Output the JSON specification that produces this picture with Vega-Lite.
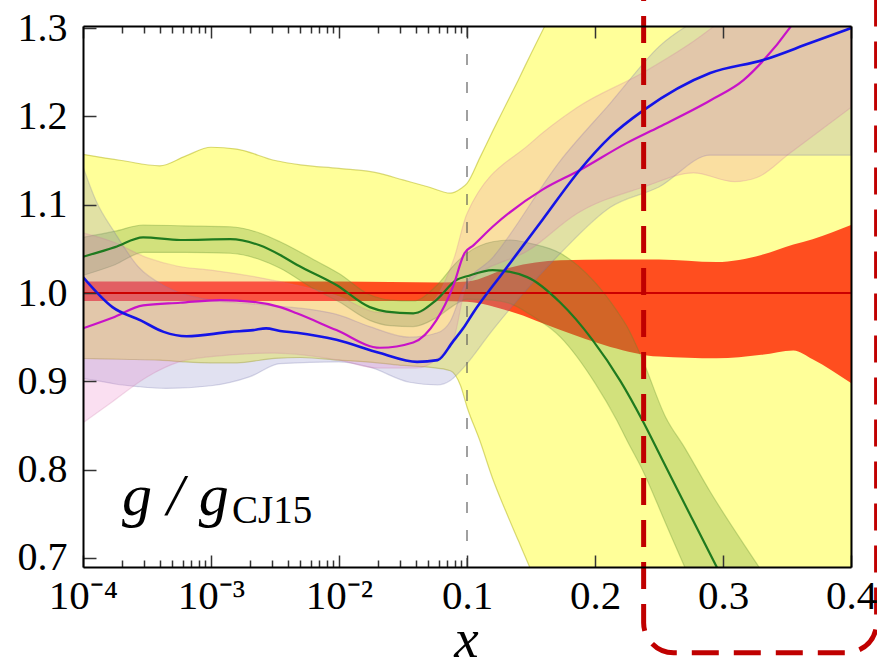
{
  "$schema": "https://vega.github.io/schema/vega-lite/v6.json",
  "width": 768,
  "height": 541,
  "autosize": {"type": "none"},
  "padding": {"left": 83, "top": 26, "right": 26, "bottom": 98},
  "background": "white",
  "config": {"view": {"stroke": null}},
  "datasets": {
    "yellow": [
      {"u": 0, "lo": 0.926, "hi": 1.157}, {"u": 0.3, "lo": 0.925, "hi": 1.150}, {"u": 0.6, "lo": 0.924, "hi": 1.144},
      {"u": 0.8, "lo": 0.922, "hi": 1.155}, {"u": 1.0, "lo": 0.921, "hi": 1.165}, {"u": 1.2, "lo": 0.921, "hi": 1.163},
      {"u": 1.5, "lo": 0.926, "hi": 1.150}, {"u": 1.7, "lo": 0.927, "hi": 1.145}, {"u": 2.0, "lo": 0.924, "hi": 1.141},
      {"u": 2.3, "lo": 0.921, "hi": 1.136}, {"u": 2.5, "lo": 0.918, "hi": 1.128}, {"u": 2.7, "lo": 0.916, "hi": 1.120},
      {"u": 2.87, "lo": 0.912, "hi": 1.113}, {"u": 2.95, "lo": 0.895, "hi": 1.118}, {"u": 3.0, "lo": 0.871, "hi": 1.124},
      {"u": 3.1, "lo": 0.833, "hi": 1.153}, {"u": 3.2, "lo": 0.790, "hi": 1.183}, {"u": 3.3, "lo": 0.754, "hi": 1.212},
      {"u": 3.4, "lo": 0.720, "hi": 1.241}, {"u": 3.5, "lo": 0.686, "hi": 1.271}, {"u": 3.6, "lo": 0.650, "hi": 1.300},
      {"u": 3.8, "lo": 0.57, "hi": 1.36}, {"u": 4.0, "lo": 0.48, "hi": 1.42}, {"u": 6.0, "lo": -0.5, "hi": 2.0}
    ],
    "red": [
      {"u": 0, "lo": 0.991, "hi": 1.013}, {"u": 1.0, "lo": 0.991, "hi": 1.013}, {"u": 2.0, "lo": 0.991, "hi": 1.013},
      {"u": 2.8, "lo": 0.991, "hi": 1.012}, {"u": 3.0, "lo": 0.990, "hi": 1.013}, {"u": 3.34, "lo": 0.979, "hi": 1.029},
      {"u": 3.73, "lo": 0.958, "hi": 1.037}, {"u": 4.12, "lo": 0.939, "hi": 1.038}, {"u": 4.5, "lo": 0.928, "hi": 1.038},
      {"u": 4.95, "lo": 0.926, "hi": 1.035}, {"u": 5.3, "lo": 0.930, "hi": 1.043}, {"u": 5.55, "lo": 0.935, "hi": 1.055},
      {"u": 5.7, "lo": 0.925, "hi": 1.061}, {"u": 6.0, "lo": 0.898, "hi": 1.077}
    ],
    "greenband": [
      {"u": 0, "lo": 1.020, "hi": 1.063}, {"u": 0.25, "lo": 1.032, "hi": 1.070}, {"u": 0.47, "lo": 1.046, "hi": 1.077},
      {"u": 0.8, "lo": 1.046, "hi": 1.076}, {"u": 1.15, "lo": 1.045, "hi": 1.075}, {"u": 1.38, "lo": 1.038, "hi": 1.068},
      {"u": 1.54, "lo": 1.028, "hi": 1.058}, {"u": 1.8, "lo": 1.005, "hi": 1.038}, {"u": 2.0, "lo": 0.990, "hi": 1.022},
      {"u": 2.24, "lo": 0.969, "hi": 0.998}, {"u": 2.4, "lo": 0.963, "hi": 0.992}, {"u": 2.58, "lo": 0.962, "hi": 0.991},
      {"u": 2.76, "lo": 0.972, "hi": 1.008}, {"u": 2.92, "lo": 0.988, "hi": 1.035}, {"u": 3.0, "lo": 0.993, "hi": 1.045},
      {"u": 3.2, "lo": 0.992, "hi": 1.058}, {"u": 3.34, "lo": 0.988, "hi": 1.060}, {"u": 3.5, "lo": 0.975, "hi": 1.056},
      {"u": 3.73, "lo": 0.950, "hi": 1.045}, {"u": 4.0, "lo": 0.898, "hi": 1.012}, {"u": 4.17, "lo": 0.856, "hi": 0.980},
      {"u": 4.25, "lo": 0.833, "hi": 0.962}, {"u": 4.37, "lo": 0.800, "hi": 0.925}, {"u": 4.55, "lo": 0.740, "hi": 0.860},
      {"u": 4.7, "lo": 0.690, "hi": 0.825}, {"u": 4.9, "lo": 0.625, "hi": 0.775}, {"u": 5.28, "lo": 0.50, "hi": 0.690},
      {"u": 5.6, "lo": 0.40, "hi": 0.62}, {"u": 6.0, "lo": 0.27, "hi": 0.53}
    ],
    "magband": [
      {"u": 0, "lo": 0.853, "hi": 1.068}, {"u": 0.23, "lo": 0.877, "hi": 1.058}, {"u": 0.5, "lo": 0.905, "hi": 1.040},
      {"u": 0.75, "lo": 0.922, "hi": 1.030}, {"u": 1.0, "lo": 0.928, "hi": 1.026}, {"u": 1.5, "lo": 0.932, "hi": 1.014},
      {"u": 2.0, "lo": 0.924, "hi": 0.996}, {"u": 2.3, "lo": 0.915, "hi": 0.978}, {"u": 2.6, "lo": 0.915, "hi": 0.977},
      {"u": 2.8, "lo": 0.930, "hi": 1.005}, {"u": 2.9, "lo": 0.950, "hi": 1.040}, {"u": 3.0, "lo": 1.010, "hi": 1.090},
      {"u": 3.5, "lo": 1.050, "hi": 1.170}, {"u": 3.86, "lo": 1.090, "hi": 1.210}, {"u": 4.38, "lo": 1.120, "hi": 1.250},
      {"u": 4.77, "lo": 1.136, "hi": 1.285}, {"u": 5.09, "lo": 1.126, "hi": 1.320}, {"u": 5.27, "lo": 1.131, "hi": 1.340},
      {"u": 5.52, "lo": 1.158, "hi": 1.370}, {"u": 6.0, "lo": 1.210, "hi": 1.450}
    ],
    "blueband": [
      {"u": 0, "lo": 0.903, "hi": 1.143}, {"u": 0.1, "lo": 0.901, "hi": 1.105}, {"u": 0.25, "lo": 0.897, "hi": 1.068},
      {"u": 0.43, "lo": 0.894, "hi": 1.030}, {"u": 0.65, "lo": 0.892, "hi": 1.007}, {"u": 1.0, "lo": 0.895, "hi": 0.992},
      {"u": 1.3, "lo": 0.905, "hi": 0.988}, {"u": 1.54, "lo": 0.920, "hi": 0.985}, {"u": 2.0, "lo": 0.922, "hi": 0.975},
      {"u": 2.24, "lo": 0.916, "hi": 0.962}, {"u": 2.55, "lo": 0.899, "hi": 0.950}, {"u": 2.77, "lo": 0.896, "hi": 0.955},
      {"u": 2.87, "lo": 0.901, "hi": 0.968}, {"u": 2.97, "lo": 0.915, "hi": 1.005}, {"u": 3.2, "lo": 0.958, "hi": 1.040},
      {"u": 3.73, "lo": 1.045, "hi": 1.150}, {"u": 4.12, "lo": 1.097, "hi": 1.215}, {"u": 4.5, "lo": 1.120, "hi": 1.279},
      {"u": 4.9, "lo": 1.156, "hi": 1.320}, {"u": 5.42, "lo": 1.156, "hi": 1.380}, {"u": 6.0, "lo": 1.156, "hi": 1.450}
    ],
    "green": [
      {"u": 0, "v": 1.041}, {"u": 0.25, "v": 1.052}, {"u": 0.47, "v": 1.063}, {"u": 0.76, "v": 1.060}, {"u": 1.15, "v": 1.061},
      {"u": 1.38, "v": 1.054}, {"u": 1.54, "v": 1.043}, {"u": 1.67, "v": 1.032}, {"u": 1.98, "v": 1.009}, {"u": 2.24, "v": 0.984},
      {"u": 2.37, "v": 0.979}, {"u": 2.58, "v": 0.977}, {"u": 2.76, "v": 0.992}, {"u": 2.92, "v": 1.015}, {"u": 3.0, "v": 1.019},
      {"u": 3.2, "v": 1.026}, {"u": 3.47, "v": 1.018}, {"u": 3.73, "v": 0.989}, {"u": 3.98, "v": 0.947}, {"u": 4.2, "v": 0.900},
      {"u": 4.37, "v": 0.856}, {"u": 4.52, "v": 0.813}, {"u": 4.75, "v": 0.747}, {"u": 4.95, "v": 0.690}, {"u": 5.2, "v": 0.62}
    ],
    "magenta": [
      {"u": 0, "v": 0.960}, {"u": 0.23, "v": 0.972}, {"u": 0.47, "v": 0.986}, {"u": 0.76, "v": 0.989}, {"u": 1.07, "v": 0.992},
      {"u": 1.33, "v": 0.990}, {"u": 1.54, "v": 0.984}, {"u": 1.67, "v": 0.977}, {"u": 1.98, "v": 0.958}, {"u": 2.32, "v": 0.938},
      {"u": 2.58, "v": 0.944}, {"u": 2.76, "v": 0.969}, {"u": 2.89, "v": 1.007}, {"u": 2.98, "v": 1.045}, {"u": 3.05, "v": 1.054},
      {"u": 3.2, "v": 1.075}, {"u": 3.59, "v": 1.117}, {"u": 3.88, "v": 1.139}, {"u": 4.25, "v": 1.170}, {"u": 4.5, "v": 1.188},
      {"u": 4.9, "v": 1.218}, {"u": 5.16, "v": 1.241}, {"u": 5.32, "v": 1.264}, {"u": 5.52, "v": 1.300}, {"u": 5.7, "v": 1.34}
    ],
    "blue": [
      {"u": 0, "v": 1.018}, {"u": 0.23, "v": 0.984}, {"u": 0.45, "v": 0.969}, {"u": 0.63, "v": 0.956}, {"u": 0.81, "v": 0.951},
      {"u": 1.15, "v": 0.956}, {"u": 1.33, "v": 0.958}, {"u": 1.43, "v": 0.960}, {"u": 1.54, "v": 0.957}, {"u": 1.67, "v": 0.955},
      {"u": 1.98, "v": 0.947}, {"u": 2.32, "v": 0.932}, {"u": 2.61, "v": 0.922}, {"u": 2.77, "v": 0.924}, {"u": 2.89, "v": 0.945},
      {"u": 2.97, "v": 0.960}, {"u": 3.05, "v": 0.978}, {"u": 3.28, "v": 1.023}, {"u": 3.59, "v": 1.083}, {"u": 3.88, "v": 1.139},
      {"u": 4.12, "v": 1.177}, {"u": 4.38, "v": 1.207}, {"u": 4.9, "v": 1.249}, {"u": 5.32, "v": 1.264}, {"u": 5.68, "v": 1.283},
      {"u": 6.0, "v": 1.300}
    ]
  },
  "layer": [
    {
      "data": {"name": "yellow"},
      "mark": {"type": "area", "clip": true, "interpolate": "monotone", "fill": "#ffff00", "fillOpacity": 0.4, "stroke": "#a8a800", "strokeOpacity": 0.45, "strokeWidth": 1.2},
      "encoding": {
        "x": {"field": "u", "type": "quantitative", "scale": {"domain": [0, 6], "nice": false, "zero": false},
          "axis": {
            "orient": "bottom",
            "values": [0, 0.30103, 0.47712, 0.60206, 0.69897, 0.77815, 0.8451, 0.90309, 0.95424, 1, 1.30103, 1.47712, 1.60206, 1.69897, 1.77815, 1.8451, 1.90309, 1.95424, 2, 2.30103, 2.47712, 2.60206, 2.69897, 2.77815, 2.8451, 2.90309, 2.95424, 3, 4, 5, 6],
            "labelExpr": "datum.value == 0 ? '10⁻⁴' : datum.value == 1 ? '10⁻³' : datum.value == 2 ? '10⁻²' : datum.value == 3 ? '0.1' : datum.value == 4 ? '0.2' : datum.value == 5 ? '0.3' : datum.value == 6 ? '0.4' : ''",
            "labelFont": "Liberation Serif", "labelFontSize": 41, "labelColor": "black",
            "labelPadding": 21, "labelFlush": false, "labelOverlap": false, "labelBound": false,
            "tickSize": {"condition": {"test": "datum.value % 1 == 0", "value": -12}, "value": -7},
            "tickColor": "#333333", "tickWidth": 1.5,
            "domain": true, "domainColor": "black", "domainWidth": 2,
            "grid": false,
            "title": "x", "titleFont": "Liberation Serif", "titleFontStyle": "italic", "titleFontWeight": "normal",
            "titleFontSize": 55, "titleColor": "black", "titleX": 383, "titleY": 89, "titleBaseline": "alphabetic", "titleAlign": "center",
            "zindex": 1
          }
        },
        "y": {"field": "lo", "type": "quantitative", "title": null, "scale": {"domain": [0.6898, 1.3023], "nice": false, "zero": false},
          "axis": {
            "orient": "left",
            "values": [0.7, 0.8, 0.9, 1.0, 1.1, 1.2, 1.3],
            "format": ".1f",
            "labelFont": "Liberation Serif", "labelFontSize": 40, "labelColor": "black", "labelPadding": 29,
            "labelOverlap": false, "labelBound": false, "labelFlush": false,
            "tickSize": -13, "tickColor": "#333333", "tickWidth": 1.5,
            "domain": true, "domainColor": "black", "domainWidth": 2, "grid": false, "title": null, "zindex": 1
          }
        },
        "y2": {"field": "hi"}
      }
    },
    {
      "data": {"name": "red"},
      "mark": {"type": "area", "clip": true, "interpolate": "monotone", "fill": "#ff2200", "fillOpacity": 0.8},
      "encoding": {
        "x": {"field": "u", "type": "quantitative", "scale": {"domain": [0, 6], "nice": false, "zero": false}, "axis": null},
        "y": {"field": "lo", "type": "quantitative", "title": null, "scale": {"domain": [0.6898, 1.3023], "nice": false, "zero": false}, "axis": null},
        "y2": {"field": "hi"}
      }
    },
    {
      "data": {"name": "greenband"},
      "mark": {"type": "area", "clip": true, "interpolate": "monotone", "fill": "#6a9a3a", "fillOpacity": 0.3, "stroke": "#5a8a2a", "strokeOpacity": 0.3, "strokeWidth": 1.2},
      "encoding": {
        "x": {"field": "u", "type": "quantitative", "scale": {"domain": [0, 6], "nice": false, "zero": false}, "axis": null},
        "y": {"field": "lo", "type": "quantitative", "title": null, "scale": {"domain": [0.6898, 1.3023], "nice": false, "zero": false}, "axis": null},
        "y2": {"field": "hi"}
      }
    },
    {
      "data": {"name": "blueband"},
      "mark": {"type": "area", "clip": true, "interpolate": "monotone", "fill": "#8787c8", "fillOpacity": 0.25, "stroke": "#7070a8", "strokeOpacity": 0.25, "strokeWidth": 1.2},
      "encoding": {
        "x": {"field": "u", "type": "quantitative", "scale": {"domain": [0, 6], "nice": false, "zero": false}, "axis": null},
        "y": {"field": "lo", "type": "quantitative", "title": null, "scale": {"domain": [0.6898, 1.3023], "nice": false, "zero": false}, "axis": null},
        "y2": {"field": "hi"}
      }
    },
    {
      "data": {"name": "magband"},
      "mark": {"type": "area", "clip": true, "interpolate": "monotone", "fill": "#e66ebe", "fillOpacity": 0.22, "stroke": "#c86e9e", "strokeOpacity": 0.22, "strokeWidth": 1.2},
      "encoding": {
        "x": {"field": "u", "type": "quantitative", "scale": {"domain": [0, 6], "nice": false, "zero": false}, "axis": null},
        "y": {"field": "lo", "type": "quantitative", "title": null, "scale": {"domain": [0.6898, 1.3023], "nice": false, "zero": false}, "axis": null},
        "y2": {"field": "hi"}
      }
    },
    {
      "data": {"values": [{"u": 3}]},
      "mark": {"type": "rule", "color": "#555555", "strokeWidth": 1.3, "strokeDash": [11, 17], "opacity": 0.85},
      "encoding": {
        "x": {"field": "u", "type": "quantitative", "scale": {"domain": [0, 6], "nice": false, "zero": false}, "axis": null}
      }
    },
    {
      "data": {"values": [{"c": 1.0}]},
      "mark": {"type": "rule", "color": "#cc0000", "strokeWidth": 2},
      "encoding": {
        "y": {"field": "c", "type": "quantitative", "title": null, "scale": {"domain": [0.6898, 1.3023], "nice": false, "zero": false}, "axis": null}
      }
    },
    {
      "data": {"name": "green"},
      "mark": {"type": "line", "clip": true, "interpolate": "monotone", "color": "#1f7a1f", "strokeWidth": 2.2},
      "encoding": {
        "x": {"field": "u", "type": "quantitative", "scale": {"domain": [0, 6], "nice": false, "zero": false}, "axis": null},
        "y": {"field": "v", "type": "quantitative", "title": null, "scale": {"domain": [0.6898, 1.3023], "nice": false, "zero": false}, "axis": null}
      }
    },
    {
      "data": {"name": "magenta"},
      "mark": {"type": "line", "clip": true, "interpolate": "monotone", "color": "#c812c8", "strokeWidth": 2.2},
      "encoding": {
        "x": {"field": "u", "type": "quantitative", "scale": {"domain": [0, 6], "nice": false, "zero": false}, "axis": null},
        "y": {"field": "v", "type": "quantitative", "title": null, "scale": {"domain": [0.6898, 1.3023], "nice": false, "zero": false}, "axis": null}
      }
    },
    {
      "data": {"name": "blue"},
      "mark": {"type": "line", "clip": true, "interpolate": "monotone", "color": "#1414e6", "strokeWidth": 2.6},
      "encoding": {
        "x": {"field": "u", "type": "quantitative", "scale": {"domain": [0, 6], "nice": false, "zero": false},
          "axis": {
            "orient": "top",
            "values": [0, 0.30103, 0.47712, 0.60206, 0.69897, 0.77815, 0.8451, 0.90309, 0.95424, 1, 1.30103, 1.47712, 1.60206, 1.69897, 1.77815, 1.8451, 1.90309, 1.95424, 2, 2.30103, 2.47712, 2.60206, 2.69897, 2.77815, 2.8451, 2.90309, 2.95424, 3, 4, 5, 6],
            "labels": false,
            "tickSize": {"condition": {"test": "datum.value % 1 == 0", "value": -12}, "value": -7},
            "tickColor": "#333333", "tickWidth": 1.5,
            "domain": true, "domainColor": "black", "domainWidth": 2, "grid": false, "title": null, "zindex": 1
          }
        },
        "y": {"field": "v", "type": "quantitative", "title": null, "scale": {"domain": [0.6898, 1.3023], "nice": false, "zero": false},
          "axis": {"orient": "right", "ticks": false, "labels": false, "domain": true, "domainColor": "black", "domainWidth": 2, "grid": false, "title": null, "zindex": 1}
        }
      }
    },
    {
      "data": {"values": [{"u": 0.305, "v": 0.7485, "t": "g / g"}]},
      "mark": {"type": "text", "font": "Liberation Serif", "fontStyle": "italic", "fontSize": 60, "align": "left", "baseline": "alphabetic", "color": "black"},
      "encoding": {
        "x": {"field": "u", "type": "quantitative", "scale": {"domain": [0, 6], "nice": false, "zero": false}, "axis": null},
        "y": {"field": "v", "type": "quantitative", "title": null, "scale": {"domain": [0.6898, 1.3023], "nice": false, "zero": false}, "axis": null},
        "text": {"field": "t"}
      }
    },
    {
      "data": {"values": [{"u": 1.164, "v": 0.7394, "t": "CJ15"}]},
      "mark": {"type": "text", "font": "Liberation Serif", "fontSize": 39, "align": "left", "baseline": "alphabetic", "color": "black"},
      "encoding": {
        "x": {"field": "u", "type": "quantitative", "scale": {"domain": [0, 6], "nice": false, "zero": false}, "axis": null},
        "y": {"field": "v", "type": "quantitative", "title": null, "scale": {"domain": [0.6898, 1.3023], "nice": false, "zero": false}, "axis": null},
        "text": {"field": "t"}
      }
    },
    {
      "data": {"values": [{"x1": 4.38, "x2": 6.2, "y1": 1.45, "y2": 0.5928}]},
      "mark": {"type": "rect", "clip": false, "fill": "white", "fillOpacity": 0, "stroke": "#c00000", "strokeWidth": 5, "strokeDash": [27, 15], "cornerRadius": 30},
      "encoding": {
        "x": {"field": "x1", "type": "quantitative", "scale": {"domain": [0, 6], "nice": false, "zero": false}, "axis": null},
        "x2": {"field": "x2"},
        "y": {"field": "y1", "type": "quantitative", "title": null, "scale": {"domain": [0.6898, 1.3023], "nice": false, "zero": false}, "axis": null},
        "y2": {"field": "y2"}
      }
    }
  ],
  "resolve": {"axis": {"x": "independent", "y": "independent"}}
}
